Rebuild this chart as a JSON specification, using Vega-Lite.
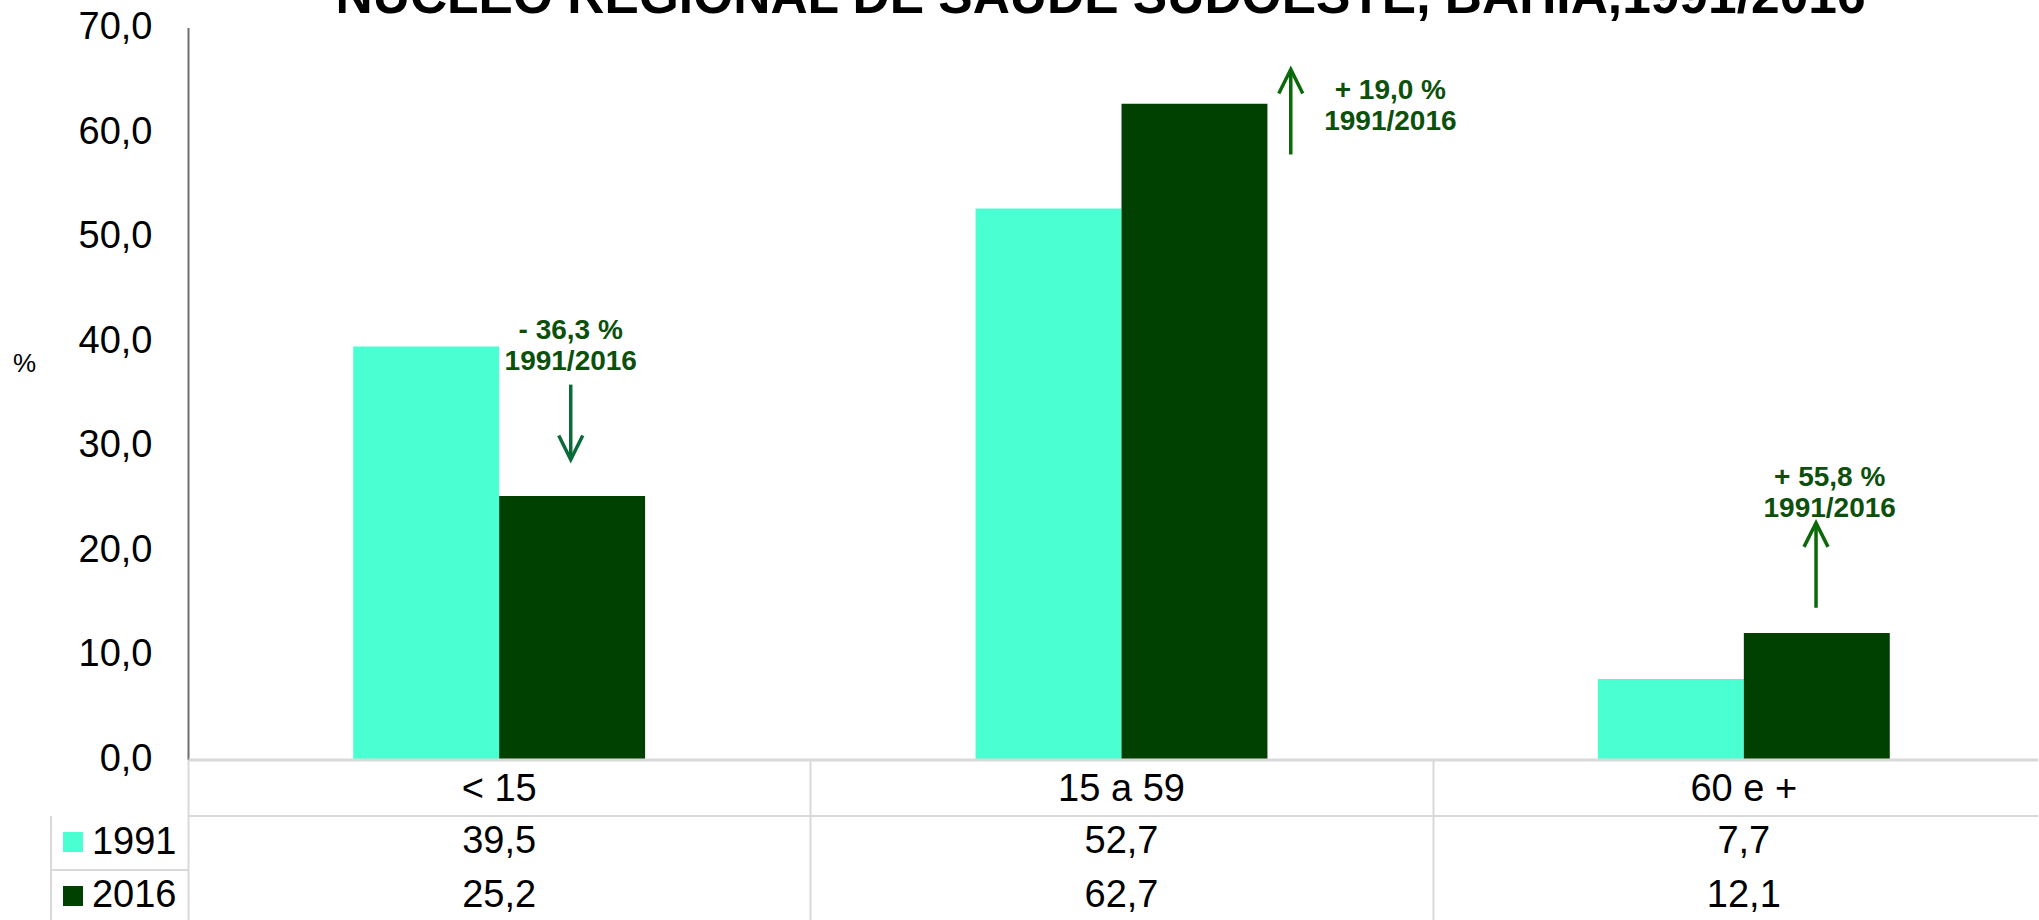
{
  "$schema": "https://vega.github.io/schema/vega-lite/v6.json",
  "background": "white",
  "padding": {"left": 12, "top": -28.5, "right": -17, "bottom": -4},
  "bounds": "flush",
  "spacing": 0,
  "config": {
    "font": "Liberation Sans",
    "view": {"stroke": null},
    "locale": {"number": {"decimal": ",", "thousands": ".", "grouping": [3], "currency": ["R$", ""]}}
  },
  "datasets": {
    "pop": [
      {"faixa": "< 15", "ano": "1991", "pct": 39.5},
      {"faixa": "< 15", "ano": "2016", "pct": 25.2},
      {"faixa": "15 a 59", "ano": "1991", "pct": 52.7},
      {"faixa": "15 a 59", "ano": "2016", "pct": 62.7},
      {"faixa": "60 e +", "ano": "1991", "pct": 7.7},
      {"faixa": "60 e +", "ano": "2016", "pct": 12.1}
    ],
    "notas": [
      {"faixa": "< 15", "sentido": "queda", "texto": "- 36,3 %\n1991/2016", "pos": 0.615, "tpos": 0.615, "ty": 40.93, "base": 35.85, "ponta": 28.69},
      {"faixa": "15 a 59", "sentido": "alta", "texto": "+ 19,0 %\n1991/2016", "pos": 1.772, "tpos": 1.932, "ty": 63.91, "base": 57.86, "ponta": 65.98},
      {"faixa": "60 e +", "sentido": "alta", "texto": "+ 55,8 %\n1991/2016", "pos": 2.616, "tpos": 2.638, "ty": 26.94, "base": 14.51, "ponta": 22.63}
    ]
  },
  "vconcat": [
    {
      "width": 1867,
      "height": 732,
      "title": {
        "text": "NÚCLEO  REGIONAL DE SAÚDE SUDOESTE, BAHIA,1991/2016",
        "fontSize": 51.5,
        "fontWeight": "bold",
        "font": "Liberation Sans",
        "color": "black",
        "anchor": "start",
        "frame": "group",
        "baseline": "alphabetic",
        "dx": 147.5,
        "offset": -56
      },
      "resolve": {"scale": {"x": "independent"}, "axis": {"x": "independent"}},
      "layer": [
        {
          "data": {"name": "pop"},
          "mark": {"type": "bar"},
          "encoding": {
            "x": {
              "field": "faixa", "type": "nominal",
              "sort": ["< 15", "15 a 59", "60 e +"],
              "scale": {"paddingInner": 0.531, "paddingOuter": 0.2655},
              "axis": null
            },
            "xOffset": {"field": "ano", "type": "nominal", "scale": {"paddingInner": 0, "paddingOuter": 0}},
            "y": {
              "field": "pct", "type": "quantitative",
              "title": "%",
              "scale": {"domain": [0, 70], "nice": false},
              "axis": {
                "values": [0, 10, 20, 30, 40, 50, 60, 70],
                "format": ".1f",
                "labelFontSize": 38, "labelColor": "black", "labelPadding": 36,
                "ticks": false, "grid": false,
                "domainColor": "#6e6e6e", "domainWidth": 2,
                "title": "%", "titleAngle": 0, "titleFontSize": 26, "titleFontWeight": "normal",
                "titleColor": "black", "titleX": -164, "titleY": 336,
                "titleAlign": "center", "titleBaseline": "middle"
              }
            },
            "color": {
              "field": "ano", "type": "nominal",
              "scale": {"domain": ["1991", "2016"], "range": ["#4AFFD1", "#004000"]},
              "legend": null
            }
          }
        },
        {
          "data": {"name": "notas"},
          "layer": [
            {
              "mark": {"type": "rule", "strokeWidth": 3.5},
              "encoding": {
                "x": {"field": "pos", "type": "quantitative", "scale": {"domain": [0, 3], "nice": false, "zero": false}, "axis": null},
                "y": {"field": "base", "type": "quantitative", "title": "%"},
                "y2": {"field": "ponta"},
                "stroke": {"field": "sentido", "type": "nominal", "scale": {"domain": ["queda", "alta"], "range": ["#0b6b38", "#0a6a0a"]}, "legend": null}
              }
            },
            {
              "mark": {"type": "point", "filled": false, "strokeWidth": 3.5, "size": 2304, "opacity": 1},
              "encoding": {
                "x": {"field": "pos", "type": "quantitative", "scale": {"domain": [0, 3], "nice": false, "zero": false}, "axis": null},
                "y": {"field": "ponta", "type": "quantitative", "title": "%"},
                "stroke": {"field": "sentido", "type": "nominal", "scale": {"domain": ["queda", "alta"], "range": ["#0b6b38", "#0a6a0a"]}, "legend": null},
                "shape": {"field": "sentido", "type": "nominal", "scale": {"domain": ["queda", "alta"], "range": ["M -0.5,-1 L 0,0 L 0.5,-1", "M -0.5,1 L 0,0 L 0.5,1"]}, "legend": null}
              }
            },
            {
              "mark": {"type": "text", "fontSize": 28, "fontWeight": "bold", "color": "#0c500c", "lineBreak": "\n", "lineHeight": 31, "align": "center", "baseline": "middle"},
              "encoding": {
                "x": {"field": "tpos", "type": "quantitative", "scale": {"domain": [0, 3], "nice": false, "zero": false}, "axis": null},
                "y": {"field": "ty", "type": "quantitative", "title": "%"},
                "text": {"field": "texto"}
              }
            }
          ]
        }
      ]
    },
    {
      "width": 1867,
      "height": 56,
      "data": {"name": "pop"},
      "transform": [{"filter": "datum.ano === '1991'"}],
      "mark": {"type": "text", "fontSize": 38, "color": "black", "align": "center", "baseline": "middle", "dy": 2},
      "encoding": {
        "x": {
          "field": "faixa", "type": "nominal",
          "sort": ["< 15", "15 a 59", "60 e +"],
          "scale": {"paddingInner": 0, "paddingOuter": 0},
          "axis": {
            "orient": "top", "title": null, "labels": false, "ticks": false,
            "domain": true, "domainColor": "#d9d9d9", "domainWidth": 3,
            "grid": true, "gridColor": "#d9d9d9", "gridWidth": 2, "tickBand": "extent"
          }
        },
        "text": {"field": "faixa"}
      }
    },
    {
      "width": 1867,
      "height": 107,
      "data": {"name": "pop"},
      "resolve": {"axis": {"y": "independent"}},
      "layer": [
        {
          "mark": {"type": "text", "fontSize": 38, "color": "black", "align": "center", "baseline": "middle"},
          "encoding": {
            "x": {
              "field": "faixa", "type": "nominal",
              "sort": ["< 15", "15 a 59", "60 e +"],
              "scale": {"paddingInner": 0, "paddingOuter": 0},
              "axis": {
                "orient": "top", "title": null, "labels": false, "ticks": false,
                "domain": true, "domainColor": "#d9d9d9", "domainWidth": 2,
                "grid": true, "gridColor": "#d9d9d9", "gridWidth": 2, "tickBand": "extent"
              }
            },
            "y": {
              "field": "ano", "type": "nominal",
              "scale": {"domain": ["1991", "2016"], "paddingInner": 0, "paddingOuter": 0},
              "axis": {
                "orient": "left", "title": null, "domain": false,
                "labelFontSize": 38, "labelColor": "black", "labelPadding": -125.5,
                "ticks": true, "tickBand": "extent", "tickSize": 137.5, "tickWidth": 2,
                "tickColor": {"condition": {"test": "datum.value === '1991'", "value": "#d9d9d9"}, "value": "transparent"}
              }
            },
            "text": {"field": "pct", "type": "quantitative", "format": ".1f"}
          }
        },
        {
          "mark": {"type": "text"},
          "encoding": {
            "y": {
              "field": "ano", "type": "nominal",
              "axis": {
                "orient": "left", "title": null, "domain": false, "labels": false, "offset": 105.5,
                "ticks": true, "tickSize": 20, "tickWidth": 20,
                "tickColor": {"condition": {"test": "datum.value === '1991'", "value": "#4AFFD1"}, "value": "#004000"}
              }
            },
            "text": {"value": ""}
          }
        },
        {
          "mark": {"type": "text"},
          "encoding": {
            "y": {
              "field": "ano", "type": "nominal",
              "axis": {
                "orient": "left", "title": null, "domain": true, "domainColor": "#d9d9d9", "domainWidth": 2,
                "labels": false, "ticks": false, "offset": 137.5
              }
            },
            "text": {"value": ""}
          }
        }
      ]
    }
  ]
}
